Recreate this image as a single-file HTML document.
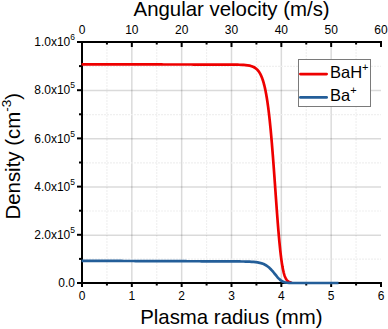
<!DOCTYPE html>
<html><head><meta charset="utf-8"><style>
html,body{margin:0;padding:0;background:#fff;}
svg{display:block;}
text{font-family:"Liberation Sans",sans-serif;fill:#000;}
.tl{font-size:12px;}
.tt{font-size:20.4px;}
.lg{font-size:16.5px;}
.sup{font-size:8.5px;}
.sup2{font-size:13.5px;}
.sup3{font-size:11px;}
.gM{stroke:#000;stroke-opacity:0.145;stroke-width:1.5;}
.gm{stroke:#f0f0f0;stroke-width:1.2;stroke-dasharray:2 1;}
.ax{stroke:#000;stroke-width:2;}
</style></head><body>
<svg width="388" height="329" viewBox="0 0 388 329">
<rect width="388" height="329" fill="#fff"/>
<line x1="131.83" y1="43" x2="131.83" y2="282" class="gM"/>
<line x1="181.67" y1="43" x2="181.67" y2="282" class="gM"/>
<line x1="231.50" y1="43" x2="231.50" y2="282" class="gM"/>
<line x1="281.33" y1="43" x2="281.33" y2="282" class="gM"/>
<line x1="331.16" y1="43" x2="331.16" y2="282" class="gM"/>
<line x1="106.92" y1="43" x2="106.92" y2="282" class="gm"/>
<line x1="156.75" y1="43" x2="156.75" y2="282" class="gm"/>
<line x1="206.58" y1="43" x2="206.58" y2="282" class="gm"/>
<line x1="256.42" y1="43" x2="256.42" y2="282" class="gm"/>
<line x1="306.25" y1="43" x2="306.25" y2="282" class="gm"/>
<line x1="356.08" y1="43" x2="356.08" y2="282" class="gm"/>
<line x1="83" y1="235.15" x2="381" y2="235.15" class="gM"/>
<line x1="83" y1="186.95" x2="381" y2="186.95" class="gM"/>
<line x1="83" y1="138.75" x2="381" y2="138.75" class="gM"/>
<line x1="83" y1="90.55" x2="381" y2="90.55" class="gM"/>
<line x1="83" y1="259.20" x2="381" y2="259.20" class="gm"/>
<line x1="83" y1="211.00" x2="381" y2="211.00" class="gm"/>
<line x1="83" y1="162.80" x2="381" y2="162.80" class="gm"/>
<line x1="83" y1="114.60" x2="381" y2="114.60" class="gm"/>
<line x1="83" y1="66.40" x2="381" y2="66.40" class="gm"/>
<line x1="82" y1="41" x2="82" y2="284" class="ax"/>
<line x1="77" y1="283" x2="382" y2="283" class="ax"/>
<line x1="77" y1="42" x2="382" y2="42" class="ax"/>
<line x1="82.00" y1="283" x2="82.00" y2="287" class="ax"/>
<line x1="82.00" y1="42" x2="82.00" y2="47" class="ax"/>
<line x1="131.83" y1="283" x2="131.83" y2="287" class="ax"/>
<line x1="131.83" y1="42" x2="131.83" y2="47" class="ax"/>
<line x1="181.67" y1="283" x2="181.67" y2="287" class="ax"/>
<line x1="181.67" y1="42" x2="181.67" y2="47" class="ax"/>
<line x1="231.50" y1="283" x2="231.50" y2="287" class="ax"/>
<line x1="231.50" y1="42" x2="231.50" y2="47" class="ax"/>
<line x1="281.33" y1="283" x2="281.33" y2="287" class="ax"/>
<line x1="281.33" y1="42" x2="281.33" y2="47" class="ax"/>
<line x1="331.16" y1="283" x2="331.16" y2="287" class="ax"/>
<line x1="331.16" y1="42" x2="331.16" y2="47" class="ax"/>
<line x1="381.00" y1="283" x2="381.00" y2="287" class="ax"/>
<line x1="381.00" y1="42" x2="381.00" y2="47" class="ax"/>
<line x1="106.92" y1="283" x2="106.92" y2="285.5" class="ax"/>
<line x1="106.92" y1="42" x2="106.92" y2="44.5" class="ax"/>
<line x1="156.75" y1="283" x2="156.75" y2="285.5" class="ax"/>
<line x1="156.75" y1="42" x2="156.75" y2="44.5" class="ax"/>
<line x1="206.58" y1="283" x2="206.58" y2="285.5" class="ax"/>
<line x1="206.58" y1="42" x2="206.58" y2="44.5" class="ax"/>
<line x1="256.42" y1="283" x2="256.42" y2="285.5" class="ax"/>
<line x1="256.42" y1="42" x2="256.42" y2="44.5" class="ax"/>
<line x1="306.25" y1="283" x2="306.25" y2="285.5" class="ax"/>
<line x1="306.25" y1="42" x2="306.25" y2="44.5" class="ax"/>
<line x1="356.08" y1="283" x2="356.08" y2="285.5" class="ax"/>
<line x1="356.08" y1="42" x2="356.08" y2="44.5" class="ax"/>
<line x1="77" y1="283.00" x2="82" y2="283.00" class="ax"/>
<line x1="77" y1="234.80" x2="82" y2="234.80" class="ax"/>
<line x1="77" y1="186.60" x2="82" y2="186.60" class="ax"/>
<line x1="77" y1="138.40" x2="82" y2="138.40" class="ax"/>
<line x1="77" y1="90.20" x2="82" y2="90.20" class="ax"/>
<line x1="77" y1="42.00" x2="82" y2="42.00" class="ax"/>
<line x1="79" y1="258.90" x2="82" y2="258.90" class="ax"/>
<line x1="79" y1="210.70" x2="82" y2="210.70" class="ax"/>
<line x1="79" y1="162.50" x2="82" y2="162.50" class="ax"/>
<line x1="79" y1="114.30" x2="82" y2="114.30" class="ax"/>
<line x1="79" y1="66.10" x2="82" y2="66.10" class="ax"/>
<path d="M81.60,64.33 L83.60,64.33 L85.60,64.34 L87.60,64.34 L89.60,64.35 L91.60,64.35 L93.60,64.35 L95.60,64.36 L97.60,64.36 L99.60,64.36 L101.60,64.37 L103.60,64.37 L105.60,64.37 L107.60,64.38 L109.60,64.38 L111.60,64.38 L113.60,64.39 L115.60,64.39 L117.60,64.39 L119.60,64.40 L121.60,64.40 L123.60,64.41 L125.60,64.41 L127.60,64.41 L129.60,64.42 L131.60,64.42 L133.60,64.42 L135.60,64.43 L137.60,64.43 L139.60,64.43 L141.60,64.44 L143.60,64.44 L145.60,64.44 L147.60,64.45 L149.60,64.45 L151.60,64.45 L153.60,64.46 L155.60,64.46 L157.60,64.47 L159.60,64.47 L161.60,64.47 L163.60,64.48 L165.60,64.48 L167.60,64.48 L169.60,64.49 L171.60,64.49 L173.60,64.49 L175.60,64.50 L177.60,64.50 L179.60,64.50 L181.60,64.51 L183.60,64.51 L185.60,64.51 L187.60,64.52 L189.60,64.52 L191.60,64.52 L193.60,64.53 L195.60,64.53 L197.60,64.54 L199.60,64.54 L201.60,64.54 L203.60,64.55 L205.60,64.55 L207.60,64.55 L209.60,64.56 L211.60,64.56 L213.60,64.56 L215.60,64.57 L217.60,64.57 L219.60,64.58 L221.60,64.58 L223.60,64.59 L225.60,64.59 L227.60,64.60 L229.60,64.61 L231.60,64.62 L233.60,64.64 L235.60,64.66 L237.60,64.69 L239.60,64.74 L241.60,64.81 L243.60,64.92 L245.60,65.08 L247.60,65.31 L249.60,65.67 L251.60,66.21 L253.60,67.02 L255.22,67.96 L256.38,68.86 L257.30,69.73 L258.06,70.59 L258.72,71.44 L259.29,72.29 L259.81,73.12 L260.27,73.96 L260.70,74.79 L261.09,75.61 L261.45,76.44 L261.79,77.26 L262.10,78.08 L262.40,78.90 L262.68,79.72 L262.95,80.53 L263.21,81.35 L263.45,82.16 L263.68,82.98 L263.90,83.79 L264.12,84.60 L264.32,85.41 L264.52,86.22 L264.71,87.03 L264.90,87.84 L265.07,88.65 L265.25,89.46 L265.42,90.27 L265.58,91.08 L265.74,91.89 L265.89,92.69 L266.04,93.50 L266.19,94.31 L266.33,95.11 L266.47,95.92 L266.61,96.72 L266.74,97.53 L266.87,98.33 L267.00,99.14 L267.13,99.94 L267.25,100.75 L267.37,101.55 L267.49,102.36 L267.61,103.16 L267.72,103.97 L267.83,104.77 L267.94,105.57 L268.05,106.38 L268.16,107.18 L268.26,107.98 L268.37,108.79 L268.47,109.59 L268.57,110.39 L268.67,111.20 L268.77,112.03 L268.87,112.86 L268.97,113.71 L269.07,114.57 L269.17,115.44 L269.27,116.32 L269.37,117.21 L269.47,118.12 L269.57,119.04 L269.67,119.97 L269.77,120.91 L269.87,121.87 L269.97,122.83 L270.07,123.81 L270.17,124.80 L270.27,125.80 L270.37,126.82 L270.47,127.84 L270.57,128.88 L270.67,129.93 L270.77,130.99 L270.87,132.07 L270.97,133.15 L271.07,134.25 L271.17,135.36 L271.27,136.48 L271.37,137.61 L271.47,138.76 L271.57,139.91 L271.67,141.08 L271.77,142.25 L271.87,143.44 L271.97,144.64 L272.07,145.85 L272.17,147.07 L272.27,148.30 L272.37,149.54 L272.47,150.79 L272.57,152.05 L272.67,153.32 L272.77,154.59 L272.87,155.88 L272.97,157.18 L273.07,158.48 L273.17,159.79 L273.27,161.11 L273.37,162.44 L273.47,163.78 L273.57,165.12 L273.67,166.47 L273.77,167.82 L273.87,169.19 L273.97,170.55 L274.07,171.93 L274.17,173.30 L274.27,174.69 L274.37,176.07 L274.47,177.47 L274.57,178.86 L274.67,180.26 L274.77,181.66 L274.87,183.06 L274.97,184.47 L275.07,185.87 L275.17,187.28 L275.27,188.69 L275.37,190.10 L275.47,191.51 L275.57,192.92 L275.67,194.32 L275.77,195.73 L275.87,197.13 L275.97,198.53 L276.07,199.93 L276.17,201.33 L276.27,202.72 L276.37,204.10 L276.47,205.49 L276.57,206.86 L276.67,208.23 L276.77,209.60 L276.87,210.96 L276.97,212.31 L277.07,213.65 L277.17,214.99 L277.27,216.32 L277.37,217.64 L277.47,218.95 L277.57,220.25 L277.67,221.54 L277.77,222.82 L277.87,224.09 L277.97,225.35 L278.07,226.60 L278.17,227.83 L278.27,229.06 L278.37,230.27 L278.47,231.46 L278.57,232.65 L278.67,233.82 L278.77,234.98 L278.87,236.12 L278.97,237.25 L279.07,238.36 L279.17,239.46 L279.27,240.55 L279.37,241.62 L279.47,242.67 L279.57,243.71 L279.67,244.73 L279.77,245.74 L279.87,246.73 L279.97,247.70 L280.07,248.66 L280.17,249.60 L280.27,250.53 L280.37,251.43 L280.47,252.33 L280.57,253.20 L280.67,254.06 L280.77,254.90 L280.87,255.73 L280.97,256.53 L281.07,257.33 L281.17,258.12 L281.28,258.92 L281.38,259.71 L281.49,260.51 L281.61,261.30 L281.72,262.10 L281.84,262.89 L281.96,263.68 L282.09,264.48 L282.22,265.27 L282.36,266.06 L282.49,266.85 L282.64,267.64 L282.79,268.43 L282.95,269.22 L283.11,270.00 L283.28,270.79 L283.46,271.57 L283.65,272.36 L283.86,273.14 L284.07,273.92 L284.30,274.70 L284.55,275.47 L284.82,276.24 L285.12,277.01 L285.45,277.77 L285.82,278.52 L286.25,279.27 L286.75,280.00 L287.36,280.72 L288.14,281.41 L289.23,282.05 L291.01,282.60 L291.50,282.69" fill="none" stroke="#ee0000" stroke-width="2.7" stroke-linejoin="round"/>
<path d="M81.60,260.82 L83.60,260.83 L85.60,260.83 L87.60,260.84 L89.60,260.85 L91.60,260.86 L93.60,260.86 L95.60,260.87 L97.60,260.88 L99.60,260.89 L101.60,260.90 L103.60,260.90 L105.60,260.91 L107.60,260.92 L109.60,260.93 L111.60,260.93 L113.60,260.94 L115.60,260.95 L117.60,260.96 L119.60,260.96 L121.60,260.97 L123.60,260.98 L125.60,260.99 L127.60,261.00 L129.60,261.00 L131.60,261.01 L133.60,261.02 L135.60,261.03 L137.60,261.03 L139.60,261.04 L141.60,261.05 L143.60,261.06 L145.60,261.06 L147.60,261.07 L149.60,261.08 L151.60,261.09 L153.60,261.10 L155.60,261.10 L157.60,261.11 L159.60,261.12 L161.60,261.13 L163.60,261.13 L165.60,261.14 L167.60,261.15 L169.60,261.16 L171.60,261.16 L173.60,261.17 L175.60,261.18 L177.60,261.19 L179.60,261.20 L181.60,261.20 L183.60,261.21 L185.60,261.22 L187.60,261.23 L189.60,261.23 L191.60,261.24 L193.60,261.25 L195.60,261.26 L197.60,261.27 L199.60,261.27 L201.60,261.28 L203.60,261.29 L205.60,261.30 L207.60,261.30 L209.60,261.31 L211.60,261.32 L213.60,261.33 L215.60,261.33 L217.60,261.34 L219.60,261.35 L221.60,261.36 L223.60,261.37 L225.60,261.38 L227.60,261.38 L229.60,261.39 L231.60,261.40 L233.60,261.42 L235.60,261.43 L237.60,261.45 L239.60,261.46 L241.60,261.49 L243.60,261.52 L245.60,261.56 L247.60,261.61 L249.60,261.69 L251.60,261.79 L253.60,261.94 L255.60,262.14 L257.60,262.42 L259.60,262.80 L261.60,263.34 L263.60,264.08 L265.47,264.99 L266.89,265.87 L268.07,266.73 L269.09,267.58 L270.00,268.42 L270.83,269.24 L271.60,270.07 L272.33,270.89 L273.02,271.70 L273.69,272.51 L274.34,273.32 L274.99,274.12 L275.63,274.92 L276.27,275.71 L276.93,276.50 L277.60,277.29 L278.31,278.07 L279.06,278.84 L279.87,279.60 L280.79,280.34 L281.85,281.07 L283.17,281.76 L285.01,282.38 L287.01,282.74 L289.01,282.90 L291.01,282.96 L293.01,282.99 L295.01,283.00 L297.01,283.00 L299.01,283.00 L301.01,283.00 L303.01,283.00 L305.01,283.00 L307.01,283.00 L309.01,283.00 L311.01,283.00 L313.01,283.00 L315.01,283.00 L317.01,283.00 L319.01,283.00 L321.01,283.00 L323.01,283.00 L325.01,283.00 L327.01,283.00 L329.01,283.00 L331.01,283.00 L333.01,283.00 L335.01,283.00 L337.01,283.00 L338.50,283.00" fill="none" stroke="#235e99" stroke-width="2.7" stroke-linejoin="round"/>
<rect x="298.5" y="59.5" width="72" height="47" fill="#fff" stroke="#7a7a7a" stroke-width="1"/>
<line x1="300.4" y1="74.1" x2="326.6" y2="74.1" stroke-linecap="round" stroke="#ee0000" stroke-width="2.8"/>
<line x1="300.4" y1="97.4" x2="326.6" y2="97.4" stroke-linecap="round" stroke="#235e99" stroke-width="2.8"/>
<text x="330" y="78" class="lg">BaH<tspan class="sup3" dy="-7">+</tspan></text>
<text x="330" y="101" class="lg">Ba<tspan class="sup3" dy="-7">+</tspan></text>
<text x="82.00" y="300" class="tl" text-anchor="middle">0</text>
<text x="131.83" y="300" class="tl" text-anchor="middle">1</text>
<text x="181.67" y="300" class="tl" text-anchor="middle">2</text>
<text x="231.50" y="300" class="tl" text-anchor="middle">3</text>
<text x="281.33" y="300" class="tl" text-anchor="middle">4</text>
<text x="331.16" y="300" class="tl" text-anchor="middle">5</text>
<text x="381.00" y="300" class="tl" text-anchor="middle">6</text>
<text x="82.00" y="34" class="tl" text-anchor="middle">0</text>
<text x="131.83" y="34" class="tl" text-anchor="middle">10</text>
<text x="181.67" y="34" class="tl" text-anchor="middle">20</text>
<text x="231.50" y="34" class="tl" text-anchor="middle">30</text>
<text x="281.33" y="34" class="tl" text-anchor="middle">40</text>
<text x="331.16" y="34" class="tl" text-anchor="middle">50</text>
<text x="381.00" y="34" class="tl" text-anchor="middle">60</text>
<text x="75" y="287.10" class="tl" text-anchor="end">0.0</text>
<text x="75" y="238.90" class="tl" text-anchor="end">2.0x10<tspan class="sup" dy="-6">5</tspan></text>
<text x="75" y="190.70" class="tl" text-anchor="end">4.0x10<tspan class="sup" dy="-6">5</tspan></text>
<text x="75" y="142.50" class="tl" text-anchor="end">6.0x10<tspan class="sup" dy="-6">5</tspan></text>
<text x="75" y="94.30" class="tl" text-anchor="end">8.0x10<tspan class="sup" dy="-6">5</tspan></text>
<text x="75" y="46.10" class="tl" text-anchor="end">1.0x10<tspan class="sup" dy="-6">6</tspan></text>
<text x="133.6" y="15.7" class="tt">Angular velocity (m/s)</text>
<text x="140.2" y="323.5" class="tt">Plasma radius (mm)</text>
<text transform="translate(20,219.5) rotate(-90)" class="tt">Density (cm<tspan class="sup2" dy="-8.6">-3</tspan><tspan dy="8.6">)</tspan></text>
</svg></body></html>
